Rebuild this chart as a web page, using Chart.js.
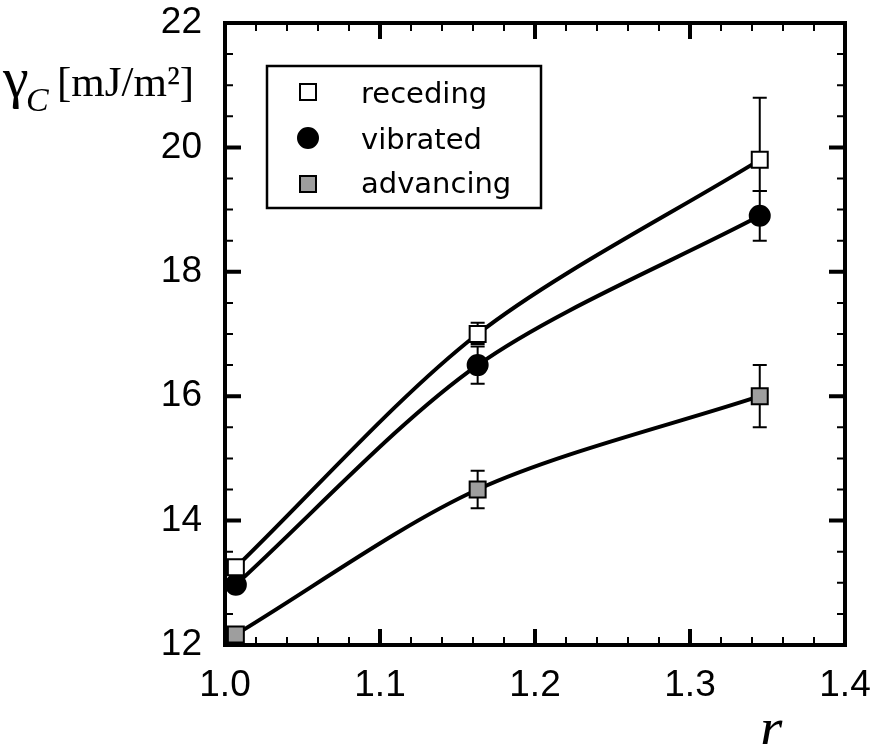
<!DOCTYPE html>
<html>
<head>
<meta charset="utf-8">
<script src="https://cdn.jsdelivr.net/npm/chart.js@4.4.1/dist/chart.umd.min.js"></script>
<style>
  body { margin:0; background:#fff; }
  #wrap { width:876px; height:744px; position:relative; }
</style>
</head>
<body>
<div id="wrap"><canvas id="myChart"></canvas></div>
<script>
// data
var rValues = [1.007, 1.163, 1.345];
var recedingValues = [13.25, 17.0, 19.8];
var recedingErrUp = [0.1, 0.18, 1.0];
var recedingErrDown = [0.1, 0.16, 0.5];
var vibratedValues = [12.97, 16.5, 18.9];
var vibratedErrUp = [0.1, 0.3, 0.4];
var vibratedErrDown = [0.1, 0.3, 0.4];
var advancingValues = [12.17, 14.5, 16.0];
var advancingErrUp = [0.1, 0.3, 0.5];
var advancingErrDown = [0.1, 0.3, 0.5];
var seriesNames = ['receding', 'vibrated', 'advancing'];
var xTicks = [1.0, 1.1, 1.2, 1.3, 1.4];
var yTicks = [12, 14, 16, 18, 20, 22];

function pts(vals){
    return rValues.map(function(x, i){ return {x: x, y: vals[i]}; });
}

var GRAY = '#9e9e9e';

function curve(vals){
    return {
        data: pts(vals), showLine: true, borderColor: '#000', borderWidth: 4,
        pointRadius: 0, pointHoverRadius: 0, tension: 0.3,
        fill: false, order: 3, clip: false
    };
}
function markers(name, vals, up, down, style, fillc, rad){
    return {
        label: name, data: pts(vals), showLine: false, pointStyle: style,
        pointRadius: rad, pointHoverRadius: rad, backgroundColor: fillc,
        borderColor: '#000', borderWidth: 2, order: 1, clip: false,
        errUp: up, errDown: down
    };
}

function noPad(s){
    s.paddingTop = 0; s.paddingBottom = 0; s.paddingLeft = 0; s.paddingRight = 0;
}

// error bars under the markers
var errorBars = {
    id: 'errorBars',
    beforeDatasetsDraw: function(chart){
        var ctx = chart.ctx, xs = chart.scales.x, ys = chart.scales.y;
        ctx.save();
        ctx.strokeStyle = '#000';
        ctx.lineWidth = 2;
        chart.data.datasets.forEach(function(ds){
            if(!ds.errUp) return;
            ds.data.forEach(function(p, i){
                var px = xs.getPixelForValue(p.x);
                var t = ys.getPixelForValue(p.y + ds.errUp[i]);
                var b = ys.getPixelForValue(p.y - ds.errDown[i]);
                ctx.beginPath();
                ctx.moveTo(px, t); ctx.lineTo(px, b);
                ctx.moveTo(px - 7, t); ctx.lineTo(px + 7, t);
                ctx.moveTo(px - 7, b); ctx.lineTo(px + 7, b);
                ctx.stroke();
            });
        });
        ctx.restore();
    }
};

// box frame with inward ticks on all sides
var frame = {
    id: 'frame',
    afterDraw: function(chart){
        var ctx = chart.ctx, a = chart.chartArea, xs = chart.scales.x, ys = chart.scales.y;
        ctx.save();
        ctx.strokeStyle = '#000';
        ctx.lineWidth = 4;
        ctx.strokeRect(a.left, a.top, a.right - a.left, a.bottom - a.top);
        var k, v, p, major;
        for(k = 0; k <= (xTicks.length - 1) * 5; k++){
            v = xTicks[0] + k * 0.02;
            p = xs.getPixelForValue(v);
            major = k % 5 == 0;
            ctx.lineWidth = major ? 4 : 2;
            var len = major ? 16 : 8;
            ctx.beginPath();
            ctx.moveTo(p, a.bottom); ctx.lineTo(p, a.bottom - len);
            ctx.moveTo(p, a.top); ctx.lineTo(p, a.top + len);
            ctx.stroke();
        }
        for(k = 0; k <= (yTicks.length - 1) * 4; k++){
            v = yTicks[0] + k * 0.5;
            p = ys.getPixelForValue(v);
            major = k % 4 == 0;
            ctx.lineWidth = major ? 4 : 2;
            var len2 = major ? 16 : 8;
            ctx.beginPath();
            ctx.moveTo(a.left, p); ctx.lineTo(a.left + len2, p);
            ctx.moveTo(a.right, p); ctx.lineTo(a.right - len2, p);
            ctx.stroke();
        }
        ctx.restore();
    }
};

// legend box and axis titles
var extras = {
    id: 'extras',
    afterDraw: function(chart){
        var ctx = chart.ctx;
        ctx.save();
        ctx.fillStyle = '#fff';
        ctx.fillRect(267, 66, 274, 142);
        ctx.strokeStyle = '#000';
        ctx.lineWidth = 2.5;
        ctx.strokeRect(267, 66, 274, 142);
        var rows = [92, 138, 184];
        var bases = [103, 149, 193];
        var sets = chart.data.datasets.filter(function(d){ return d.errUp; });
        sets.forEach(function(ds, i){
            ctx.lineWidth = 2;
            ctx.strokeStyle = '#000';
            ctx.fillStyle = ds.backgroundColor;
            ctx.beginPath();
            if(ds.pointStyle == 'circle'){
                ctx.arc(308, rows[i], 10, 0, Math.PI * 2);
            } else {
                ctx.rect(300, rows[i] - 8, 16, 16);
            }
            ctx.fill();
            ctx.stroke();
            ctx.fillStyle = '#000';
            ctx.font = '29px "DejaVu Sans"';
            ctx.textBaseline = 'alphabetic';
            ctx.textAlign = 'left';
            ctx.fillText(seriesNames[i], 361, bases[i]);
        });

        // y title: gamma_C [mJ/m²]
        ctx.fillStyle = '#000';
        ctx.textAlign = 'left';
        ctx.textBaseline = 'alphabetic';
        ctx.font = '58px "Liberation Serif"';
        ctx.fillText('\u03b3', 3, 97);
        ctx.font = 'italic 34px "Liberation Serif"';
        ctx.fillText('C', 26, 111);
        ctx.font = '43px "Liberation Serif"';
        ctx.fillText('[mJ/m\u00b2]', 57, 96);

        // x title
        ctx.font = 'italic 58px "Liberation Serif"';
        ctx.textAlign = 'center';
        ctx.fillText('r', 771, 747);
        ctx.restore();
    }
};

var ctx = document.getElementById('myChart').getContext('2d');
var chart = new Chart(ctx, {
    type: 'scatter',
    data: {
        datasets: [
            curve(recedingValues),
            curve(vibratedValues),
            curve(advancingValues),
            markers(seriesNames[0], recedingValues, recedingErrUp, recedingErrDown, 'rect', '#fff', 11.3),
            markers(seriesNames[1], vibratedValues, vibratedErrUp, vibratedErrDown, 'circle', '#000', 10),
            markers(seriesNames[2], advancingValues, advancingErrUp, advancingErrDown, 'rect', GRAY, 11.3)
        ]
    },
    options: {
        responsive: true,
        maintainAspectRatio: false,
        animation: false,
        layout: { padding: { left: 0, right: 31, top: 23, bottom: 0 } },
        plugins: { legend: { display: false }, tooltip: { enabled: false } },
        scales: {
            x: {
                type: 'linear', min: 1.0, max: 1.4,
                grid: { display: false, drawTicks: false },
                border: { display: false },
                afterBuildTicks: function(s){ s.ticks = xTicks.map(function(v){ return {value: v}; }); },
                afterFit: function(s){ s.height = 99; noPad(s); },
                ticks: {
                    color: '#000', padding: 19, maxRotation: 0,
                    font: { family: '"Liberation Sans", Arial', size: 37 },
                    callback: function(v){ return Number(v).toFixed(1); }
                }
            },
            y: {
                type: 'linear', min: 12, max: 22,
                grid: { display: false, drawTicks: false },
                border: { display: false },
                afterBuildTicks: function(s){ s.ticks = yTicks.map(function(v){ return {value: v}; }); },
                afterFit: function(s){ s.width = 225; noPad(s); },
                ticks: {
                    color: '#000', padding: 23,
                    font: { family: '"Liberation Sans", Arial', size: 37 }
                }
            }
        }
    },
    plugins: [errorBars, frame, extras]
});
</script>
</body>
</html>
